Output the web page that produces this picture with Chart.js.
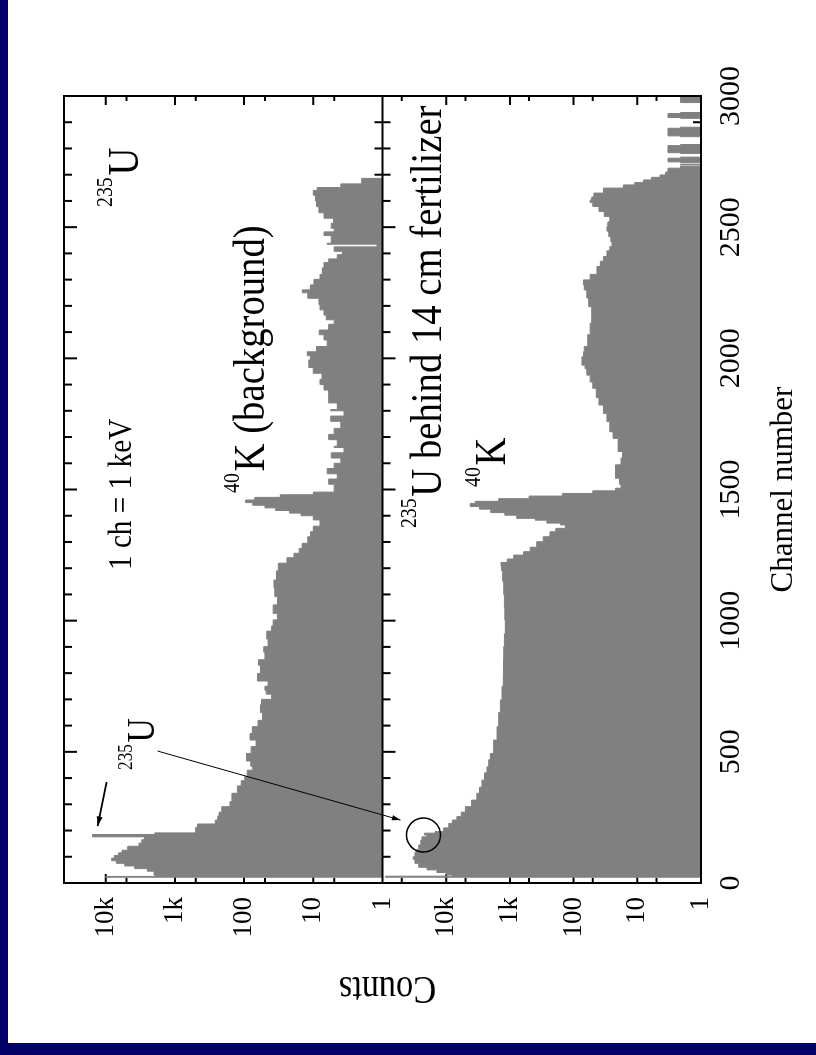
<!DOCTYPE html>
<html>
<head>
<meta charset="utf-8">
<script src="https://cdn.jsdelivr.net/npm/chart.js@4.4.0/dist/chart.umd.min.js"></script>
<style>
  html, body { margin: 0; padding: 0; }
  body { width: 816px; height: 1055px; background: #000066; position: relative; overflow: hidden; }
  #sheet { position: absolute; left: 8px; top: 0; width: 808px; height: 1043px; background: #fff; overflow: hidden; }
  /* the figure is drawn landscape and turned a quarter left */
  #turn { position: absolute; left: 0; top: 0; width: 1043px; height: 808px;
          transform-origin: 0 0; transform: translate(0, 1043px) rotate(-90deg); }
</style>
</head>
<body>
<div id="sheet"><div id="turn"><canvas id="spectrum" width="1043" height="808"></canvas></div></div>
<script>
var serif = 'Liberation Serif';

// axes
var channelTicks = [0, 500, 1000, 1500, 2000, 2500, 3000];
var channelMinorStep = 100;
var countTicks = [1, 10, 100, 1000, 10000];
var countLabels = ['1', '10', '100', '1k', '10k'];
var countMinor = [5, 50, 500, 5000, 50000];

// upper panel: 235U source, background
var bgChannels = [0, 22, 25, 30, 45, 55, 65, 75, 85, 95, 105, 115, 125, 140, 152, 165, 176, 185, 191, 212, 225, 240,
  255, 270, 291, 310, 342, 370, 390, 405, 430, 445, 465, 494, 520, 545, 570, 596, 620, 650, 680, 700, 720, 735, 750,
  770, 799, 830, 851, 880, 901, 930, 960, 980, 1003, 1028, 1060, 1092, 1125, 1155, 1190, 1219, 1240, 1257, 1275, 1295,
  1320, 1339, 1360, 1384, 1400, 1410, 1420, 1430, 1440, 1450, 1460, 1470, 1480, 1490, 1500, 1520, 1540, 1560, 1580,
  1600, 1620, 1640, 1660, 1665, 1690, 1710, 1733, 1760, 1780, 1800, 1805, 1830, 1850, 1879, 1900, 1920, 1943, 1965,
  1994, 2010, 2025, 2045, 2070, 2090, 2108, 2130, 2147, 2165, 2185, 2205, 2229, 2250, 2261, 2280, 2301, 2320, 2345,
  2365, 2379, 2395, 2408, 2425, 2435, 2439, 2468, 2482, 2496, 2515, 2534, 2555, 2578, 2600, 2622, 2640, 2651, 2665,
  2686, 2692, 3000];
var bgCounts = [1, 1, 10000, 1900, 2000, 2500, 3800, 5300, 7000, 8200, 7500, 6500, 5800, 4800, 3300, 3000, 2750, 15500, 1950, 500, 470, 260,
  240, 230, 210, 160, 150, 125, 110, 98, 90, 75, 80, 92, 79, 67, 82, 76, 63, 54, 58, 56, 40, 48, 50,
  45, 64, 58, 62, 50, 52, 45, 47, 40, 38, 33, 38, 33, 36, 37, 34, 32, 24, 19, 16, 14.5,
  12, 11, 10, 8, 10, 15, 22, 35, 50, 75, 95, 70, 30, 10, 5, 5, 6, 4.5, 6.3,
  5, 4, 5.5, 3.6, 5, 4.5, 6, 5, 4, 5.6, 3.6, 5.6, 4.5, 6, 6, 7, 8, 7.5, 10,
  11.6, 11, 12.2, 9, 6.3, 7, 8.2, 6, 5, 6.5, 7, 8, 8.3, 12, 14.4, 11, 9.8, 8, 7.4,
  7, 6, 4.5, 3.8, 5, 1.2, 6.3, 5.5, 7, 5, 5.5, 5.1, 7, 8.3, 9, 9.3, 10, 8.8, 4,
  2, 1, 1];

// lower panel: 235U behind 14 cm fertilizer
var fzChannels = [0, 22, 26, 31, 40, 50, 60, 75, 90, 100, 115, 126, 145, 164, 176, 183, 190, 196, 210, 227, 240, 253,
  270, 291, 316, 342, 365, 392, 420, 443, 470, 494, 545, 596, 650, 698, 750, 799, 850, 901, 950, 1003, 1050, 1100,
  1150, 1190, 1210, 1222, 1235, 1250, 1263, 1280, 1301, 1320, 1339, 1352, 1365, 1372, 1383, 1390, 1402, 1412, 1425,
  1435, 1447, 1455, 1465, 1475, 1485, 1495, 1505, 1520, 1543, 1570, 1594, 1620, 1645, 1670, 1695, 1720, 1759, 1790,
  1822, 1850, 1886, 1910, 1936, 1960, 1974, 2006, 2025, 2045, 2090, 2134, 2165, 2197, 2230, 2261, 2280, 2299, 2320,
  2350, 2370, 2388, 2410, 2426, 2445, 2464, 2485, 2502, 2520, 2541, 2560, 2579, 2594, 2604, 2615, 2630, 2649, 2661,
  2670, 2680, 2690, 2699, 2710, 2725, 2732, 2737, 2740, 2746, 2749, 2763, 2767, 2781, 2784, 2811, 2815, 2845, 2848,
  2877, 2881, 2915, 2918, 2933, 2937, 2975, 2978, 3000];
var fzCounts = [1, 1, 90000, 8000, 10000, 14000, 20000, 27000, 31000, 33000, 31000, 30000, 27000, 25000, 24000, 20000, 22000, 15000, 11000, 9100, 8000, 6800,
  5800, 5000, 4000, 3300, 3000, 2750, 2500, 2290, 2150, 2030, 1800, 1590, 1500, 1410, 1330, 1270, 1260, 1250, 1220, 1180, 1200, 1220,
  1250, 1300, 1350, 1380, 1100, 870, 610, 480, 380, 300, 235, 190, 135, 160, 263, 400, 780, 1200, 2000,
  3000, 4200, 3500, 1500, 500, 150, 50, 22, 18, 19, 22, 22, 18, 17, 20, 20, 24, 27, 30,
  34, 40, 44, 50, 55, 62, 66, 74, 70, 68, 60, 55, 52, 52, 58, 62, 68, 70, 55,
  43, 38, 34, 30, 27, 25, 26, 28, 30, 29, 27, 33, 40, 50, 55, 52, 48, 34, 16.5,
  11, 8, 6, 4.4, 3.6, 3.3, 2.1, 1, 2.1, 1, 2.1, 3.3, 2.1, 1, 2.1, 3.3, 2.1, 1, 2.1,
  3.3, 2.1, 1, 2.1, 3.3, 2.1, 1, 2.1, 2.1];

function points(chs, vals) {
  return chs.map(function (c, i) { return {x: c, y: vals[i]}; });
}

function drawNote(ctx, x, y, sup, text, size) {
  ctx.save();
  ctx.translate(x, y);
  ctx.scale(0.86, 1);
  var w = 0;
  if (sup) {
    ctx.font = Math.round(size * 0.5) + 'px "' + serif + '"';
    ctx.fillText(sup, 0, -size * 0.56);
    w = ctx.measureText(sup).width + 2;
  }
  ctx.font = size + 'px "' + serif + '"';
  ctx.fillText(text, w, 0);
  ctx.restore();
}

function arrow(ctx, p, q, head) {
  ctx.beginPath();
  ctx.moveTo(p.x, p.y);
  ctx.lineTo(q.x, q.y);
  ctx.stroke();
  var ang = Math.atan2(q.y - p.y, q.x - p.x);
  ctx.beginPath();
  ctx.moveTo(q.x, q.y);
  ctx.lineTo(q.x - head * Math.cos(ang - 0.3), q.y - head * Math.sin(ang - 0.3));
  ctx.lineTo(q.x - head * Math.cos(ang + 0.3), q.y - head * Math.sin(ang + 0.3));
  ctx.closePath();
  ctx.fill();
}

// labels placed in data units (channel, counts) of their panel
var notes = [
  {sup: '235', text: 'U', ch: 2577, count: 3450, axis: 'yTop', size: 45},
  {sup: '40', text: 'K (background)', ch: 1487, count: 52, axis: 'yTop', size: 45},
  {sup: '', text: '1 ch = 1 keV', ch: 1193, count: 4350, axis: 'yTop', size: 34},
  {sup: '235', text: 'U', ch: 431, count: 2030, axis: 'yTop', size: 39},
  {sup: '235', text: 'U behind 14 cm fertilizer', ch: 1353, count: 11900, axis: 'yBot', size: 45},
  {sup: '40', text: 'K', ch: 1510, count: 1180, axis: 'yBot', size: 45}
];

function at(chart, ch, count, axis) {
  return {x: chart.scales.x.getPixelForValue(ch), y: chart.scales[axis].getPixelForValue(count)};
}

var framePlugin = {
  id: 'frame',
  beforeDatasetsDraw: function (chart) {
    var ctx = chart.ctx, a = chart.chartArea, xs = chart.scales.x;
    var mid = chart.scales.yTop.bottom;
    ctx.save();
    ctx.strokeStyle = '#000';
    ctx.lineWidth = 2;
    ctx.beginPath();
    for (var c = 0; c <= 3000; c += channelMinorStep) {
      var p = xs.getPixelForValue(c);
      var len = channelTicks.indexOf(c) >= 0 ? 13 : 8;
      ctx.moveTo(p, a.top); ctx.lineTo(p, a.top + len);
      ctx.moveTo(p, mid - len); ctx.lineTo(p, mid + len);
      ctx.moveTo(p, a.bottom); ctx.lineTo(p, a.bottom - len);
    }
    ['yTop', 'yBot'].forEach(function (id) {
      var s = chart.scales[id];
      countTicks.concat(countMinor).forEach(function (v) {
        if (v <= s.min || v >= s.max) return;
        var q = s.getPixelForValue(v);
        var len = countTicks.indexOf(v) >= 0 ? 9 : 5;
        ctx.moveTo(a.left, q); ctx.lineTo(a.left + len, q);
        ctx.moveTo(a.right, q); ctx.lineTo(a.right - len, q);
      });
    });
    ctx.stroke();
    ctx.restore();
  },
  afterDatasetsDraw: function (chart) {
    var ctx = chart.ctx, a = chart.chartArea;
    var mid = chart.scales.yTop.bottom;
    ctx.save();
    ctx.strokeStyle = '#000';
    ctx.fillStyle = '#000';
    ctx.lineWidth = 2;
    ctx.strokeRect(a.left, a.top, a.right - a.left, a.bottom - a.top);
    ctx.beginPath();
    ctx.moveTo(a.left, mid); ctx.lineTo(a.right, mid);
    ctx.stroke();

    notes.forEach(function (n) {
      var p = at(chart, n.ch, n.count, n.axis);
      drawNote(ctx, p.x, p.y, n.sup, n.text, n.size);
    });

    ctx.lineWidth = 2;
    arrow(ctx, at(chart, 385, 9680, 'yTop'), at(chart, 217, 13060, 'yTop'), 10);
    ctx.lineWidth = 1;
    arrow(ctx, at(chart, 503, 1775, 'yTop'), at(chart, 240, 52200, 'yBot'), 9);
    var o = at(chart, 183, 22800, 'yBot');
    ctx.lineWidth = 1.5;
    ctx.beginPath();
    ctx.arc(o.x, o.y, 17, 0, Math.PI * 2);
    ctx.stroke();

    // shared count title
    ctx.save();
    ctx.translate(a.left - 94, (a.top + a.bottom) / 2 + 5);
    ctx.rotate(-Math.PI / 2);
    ctx.scale(0.86, 1);
    ctx.textAlign = 'center';
    ctx.font = '40px "' + serif + '"';
    ctx.fillText('Counts', 0, 0);
    ctx.restore();
    ctx.restore();
  }
};

function countAxis(max, weight) {
  return {
    type: 'logarithmic',
    position: 'left',
    stack: 'counts',
    stackWeight: 1,
    weight: weight,
    min: 1,
    max: max,
    afterBuildTicks: function (s) { s.ticks = countTicks.map(function (v) { return {value: v}; }); },
    afterFit: function (s) { s.width = 160; },
    grid: {display: false, drawTicks: false},
    border: {display: false},
    ticks: {
      autoSkip: false,
      padding: 14,
      color: '#000',
      font: {family: serif, size: 27},
      callback: function (v) { return countLabels[countTicks.indexOf(v)]; }
    }
  };
}

var ctx = document.getElementById('spectrum').getContext('2d');
var chart = new Chart(ctx, {
  type: 'line',
  data: {
    datasets: [{
      label: 'background',
      data: points(bgChannels, bgCounts),
      yAxisID: 'yTop',
      stepped: 'after',
      fill: 'start',
      backgroundColor: '#808080',
      borderColor: '#808080',
      borderWidth: 1,
      pointRadius: 0
    }, {
      label: 'behind fertilizer',
      data: points(fzChannels, fzCounts),
      yAxisID: 'yBot',
      stepped: 'after',
      fill: 'start',
      backgroundColor: '#808080',
      borderColor: '#808080',
      borderWidth: 1,
      pointRadius: 0
    }]
  },
  options: {
    responsive: false,
    animation: false,
    devicePixelRatio: 1,
    events: [],
    layout: {padding: {left: 0, top: 56, right: 96, bottom: 0}},
    plugins: {legend: {display: false}, tooltip: {enabled: false}},
    scales: {
      x: {
        type: 'linear',
        position: 'bottom',
        min: 0,
        max: 3000,
        afterBuildTicks: function (s) { s.ticks = channelTicks.map(function (v) { return {value: v}; }); },
        afterFit: function (s) { s.height = 115; },
        grid: {display: false, drawTicks: false},
        border: {display: false},
        ticks: {
          autoSkip: false, maxRotation: 0, padding: 12, color: '#000', font: {family: serif, size: 30},
          callback: function (v) { return String(v); }
        },
        title: {display: true, text: 'Channel number', color: '#000', font: {family: serif, size: 31}, padding: {top: 0, bottom: 14}}
      },
      yTop: countAxis(40000, 2),
      yBot: countAxis(100000, 1)
    }
  },
  plugins: [framePlugin]
});
</script>
</body>
</html>
